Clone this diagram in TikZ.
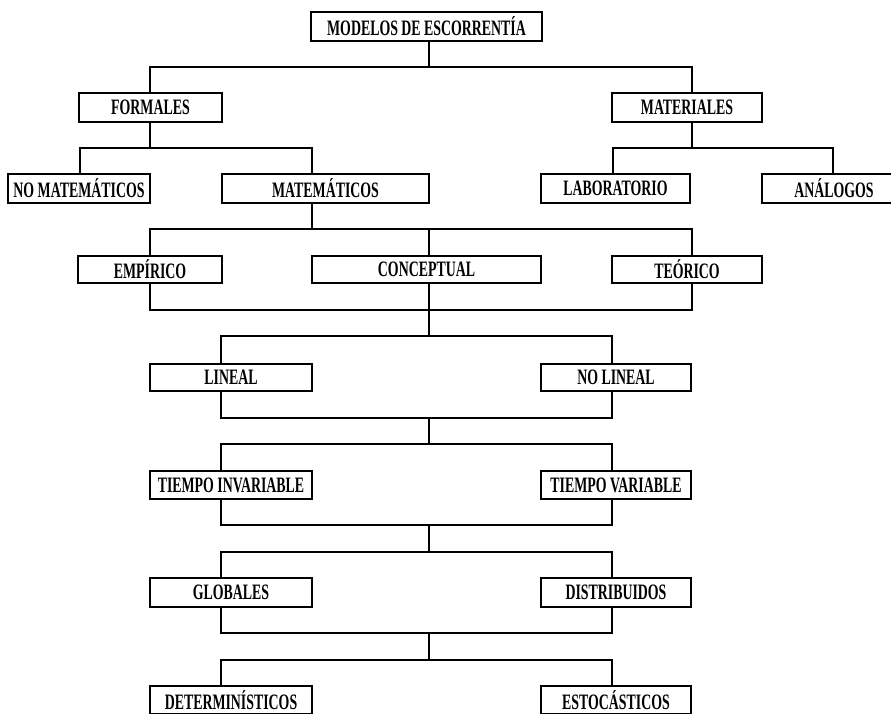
\documentclass[tikz,border=0pt]{standalone}
\usepackage{fontspec}
\setmainfont{Liberation Serif}[FakeStretch=0.63]
\begin{document}
\begin{tikzpicture}[x=1pt,y=-1pt,
  box/.style={draw=black, line width=2pt, fill=white, inner sep=0pt,
    minimum height=28pt, font=\fontsize{22}{22}\selectfont\bfseries, text=black},
  conn/.style={draw=black, line width=1.3pt}]
\useasboundingbox (0,0) rectangle (891,713);
\clip (0,0) rectangle (891,713);
\fill[white] (0,0) rectangle (891,713);
% x positions of connector verticals
\coordinate (x80) at (80,0);
\coordinate (x150) at (150,0);
\coordinate (x221) at (221,0);
\coordinate (x312) at (312,0);
\coordinate (x429) at (429,0);
\coordinate (x612) at (612,0);
\coordinate (x613) at (613,0);
\coordinate (x692) at (692,0);
\coordinate (x833) at (833,0);
% bus points
\coordinate (b1) at (429,67);
\coordinate (b2) at (150,148);
\coordinate (b3) at (692,148);
\coordinate (b4) at (312,229);
\coordinate (b5) at (429,310);
\coordinate (b6) at (429,336);
\coordinate (b7) at (429,418);
\coordinate (b8) at (429,444);
\coordinate (b9) at (429,525);
\coordinate (b10) at (429,552);
\coordinate (b11) at (429,633);
\coordinate (b12) at (429,660);
% boxes
\node[box, minimum width=231pt, minimum height=29pt] (mod) at (426.5,26.5) {MODELOS DE ESCORRENTÍA};
\node[box, minimum width=143pt, minimum height=29pt] (formales) at (150.5,107.5) {FORMALES};
\node[box, minimum width=150pt, minimum height=29pt] (materiales) at (687,107.5) {MATERIALES};
\node[box, minimum width=142pt, minimum height=29pt] (nomat) at (79,188.5) {NO MATEMÁTICOS};
\node[box, minimum width=207pt, minimum height=29pt] (mat) at (325.5,188.5) {MATEMÁTICOS};
\node[box, minimum width=149pt, minimum height=29pt] (lab) at (615.5,188.5) {LABORATORIO};
\node[box, minimum width=144pt, minimum height=29pt] (analog) at (834,188.5) {ANÁLOGOS};
\node[box, minimum width=144pt, minimum height=27pt] (emp) at (150,269.5) {EMPÍRICO};
\node[box, minimum width=229pt, minimum height=27pt] (conc) at (426.5,269.5) {CONCEPTUAL};
\node[box, minimum width=150pt, minimum height=27pt] (teo) at (687,269.5) {TEÓRICO};
\node[box, minimum width=162pt, minimum height=27pt] (lin) at (231,377.5) {LINEAL};
\node[box, minimum width=150pt, minimum height=27pt] (nolin) at (616,377.5) {NO LINEAL};
\node[box, minimum width=162pt] (tinv) at (231,485) {TIEMPO INVARIABLE};
\node[box, minimum width=150pt] (tvar) at (616,485) {TIEMPO VARIABLE};
\node[box, minimum width=162pt, minimum height=29pt] (glob) at (231,592.5) {GLOBALES};
\node[box, minimum width=150pt, minimum height=29pt] (dist) at (616,592.5) {DISTRIBUIDOS};
\node[box, minimum width=162pt] (det) at (231,700) {DETERMINÍSTICOS};
\node[box, minimum width=150pt] (esto) at (616,700) {ESTOCÁSTICOS};
% connectors
\draw[conn] (mod.south -| b1) -- (b1);
\draw[conn] (formales.north -| x150) |- (b1) -| (materiales.north -| x692);
\draw[conn] (formales.south -| b2) -- (b2);
\draw[conn] (nomat.north -| x80) |- (b2) -| (mat.north -| x312);
\draw[conn] (materiales.south -| b3) -- (b3);
\draw[conn] (lab.north -| x613) |- (b3) -| (analog.north -| x833);
\draw[conn] (mat.south -| b4) -- (b4);
\draw[conn] (emp.north -| x150) |- (b4) -| (teo.north -| x692);
\draw[conn] (b4 -| x429) -- (conc.north -| x429);
\draw[conn] (emp.south -| x150) |- (b5) -| (teo.south -| x692);
\draw[conn] (conc.south -| x429) -- (b5) -- (b6);
\draw[conn] (lin.north -| x221) |- (b6) -| (nolin.north -| x612);
\draw[conn] (lin.south -| x221) |- (b7) -| (nolin.south -| x612);
\draw[conn] (b7) -- (b8);
\draw[conn] (tinv.north -| x221) |- (b8) -| (tvar.north -| x612);
\draw[conn] (tinv.south -| x221) |- (b9) -| (tvar.south -| x612);
\draw[conn] (b9) -- (b10);
\draw[conn] (glob.north -| x221) |- (b10) -| (dist.north -| x612);
\draw[conn] (glob.south -| x221) |- (b11) -| (dist.south -| x612);
\draw[conn] (b11) -- (b12);
\draw[conn] (det.north -| x221) |- (b12) -| (esto.north -| x612);
\end{tikzpicture}
\end{document}
